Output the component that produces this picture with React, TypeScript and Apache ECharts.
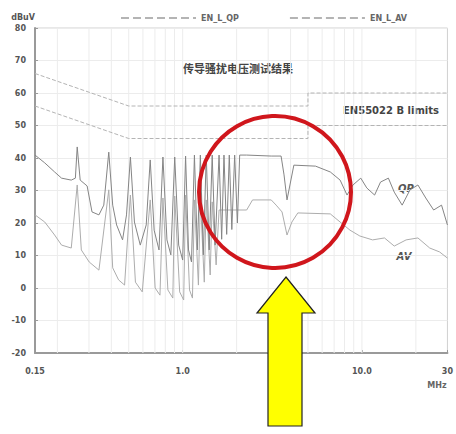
import React, { useEffect, useRef } from "react";
import * as echarts from "echarts";

// Axis ticks
const xTickFreqs = [0.15, 1, 10, 30];
const xTickLabels = ["0.15", "1.0", "10.0", "30"];
const gridFreqs = [0.2, 0.3, 0.4, 0.5, 0.6, 0.7, 0.8, 0.9, 1, 2, 3, 4, 5, 6, 7, 8, 9, 10, 20];
const yMin = -20;
const yMax = 80;
const yStep = 10;

// EN55022 class B limits (MHz, dBuV)
const limitFreq = [0.15, 0.5, 5, 5, 30];
const qpLimit = [66, 56, 56, 60, 60];
const avLimit = [56, 46, 46, 50, 50];

// Quasi-peak trace (MHz, dBuV)
const qpFreq = [0.150, 0.170, 0.193, 0.211, 0.239, 0.252, 0.258, 0.268, 0.293, 0.312, 0.341, 0.363, 0.387, 0.407, 0.428, 0.462, 0.486, 0.511, 0.538, 0.580, 0.626, 0.659, 0.693, 0.738, 0.776, 0.817, 0.859, 0.903, 0.950, 1.000, 1.038, 1.078, 1.120, 1.163, 1.208, 1.255, 1.304, 1.354, 1.406, 1.461, 1.517, 1.596, 1.65, 1.70, 1.76, 1.82, 1.88, 1.95, 2.02, 2.08, 2.275, 3.120, 3.540, 3.677, 3.820, 3.967, 4.172, 5.511, 6.662, 7.557, 8.260, 8.911, 9.859, 10.64, 11.77, 12.70, 14.05, 15.15, 16.77, 18.55, 20.53, 22.71, 25.13, 27.81, 30.00];
const qpLevel = [40.9, 38.5, 35.7, 33.8, 33.2, 33.8, 43.4, 33.2, 31.4, 23.4, 22.5, 25.5, 41.8, 25.5, 19.4, 14.8, 22.5, 40.3, 20.3, 13.2, 19.4, 39.4, 17.8, 11.7, 40.3, 14.8, 10.2, 40.3, 13.2, 8.6, 40.6, 11.7, 8.0, 40.9, 11.7, 40.9, 10.2, 40.9, 11.7, 40.9, 13.2, 40.9, 15.0, 40.9, 16.5, 40.9, 18.0, 40.9, 20.0, 40.9, 40.9, 40.6, 40.6, 34.8, 27.1, 31.7, 37.8, 37.5, 35.7, 33.2, 28.6, 31.7, 33.8, 30.8, 28.6, 32.6, 33.8, 29.5, 25.5, 30.2, 31.7, 27.7, 24.0, 25.5, 19.4];

// Average trace (MHz, dBuV)
const avFreq = [0.150, 0.170, 0.193, 0.211, 0.239, 0.258, 0.272, 0.301, 0.341, 0.387, 0.407, 0.439, 0.474, 0.511, 0.545, 0.595, 0.659, 0.702, 0.747, 0.776, 0.827, 0.881, 0.903, 0.962, 1.013, 1.038, 1.092, 1.134, 1.163, 1.224, 1.255, 1.320, 1.354, 1.424, 1.461, 1.537, 1.596, 2.275, 2.454, 3.120, 3.323, 3.585, 3.820, 4.068, 4.389, 6.662, 7.557, 8.579, 9.737, 11.47, 13.36, 15.15, 17.64, 20.53, 23.89, 27.12, 30.00];
const avLevel = [22.5, 20.3, 16.3, 13.2, 12.3, 31.7, 11.7, 8.0, 5.5, 30.2, 6.2, 2.5, 0.9, 28.6, 1.8, -1.2, 27.1, 0.0, -2.2, 27.7, -0.6, -3.1, 28.3, -1.2, -3.7, 28.6, -0.6, -3.1, 27.1, 0.9, 27.7, 1.8, 27.1, 4.0, 26.5, 7.1, 24.0, 24.0, 27.1, 27.1, 25.5, 23.4, 16.3, 20.3, 23.1, 22.8, 20.3, 17.8, 16.0, 14.8, 15.4, 12.9, 14.8, 15.4, 12.3, 11.1, 9.2];

const legendNames = ["EN_L_QP", "EN_L_AV"];
const titleText = "传导骚扰电压测试结果";
const limitText = "EN55022 B limits";

const lg = (f: number) => Math.log10(f);

export default function App() {
  const ref = useRef<HTMLDivElement>(null);
  useEffect(() => {
    const chart = echarts.init(ref.current!, null, { renderer: "svg" });
    const labelFont = { fontSize: 8, fontWeight: "bold" as const, color: "#555", fontFamily: "DejaVu Sans" };
    const centered = { textAlign: "center", textVerticalAlign: "middle", align: "center", verticalAlign: "middle" };
    const gridData: any[] = [];
    gridFreqs.forEach((f) => {
      gridData.push([lg(f), yMin], [lg(f), yMax], [lg(f), "-"]);
    });
    chart.setOption({
      animation: false,
      backgroundColor: "#fff",
      grid: { left: 35, top: 28, width: 419, height: 325, show: true, borderColor: "#d0d0d0", borderWidth: 1 },
      legend: {
        data: legendNames.map((n) => ({ name: n, itemStyle: { opacity: 0 } })),
        left: 115,
        top: 9,
        itemWidth: 75,
        itemHeight: 8,
        itemGap: 50,
        textStyle: { fontSize: 8, fontWeight: "bold", color: "#666", fontFamily: "DejaVu Sans" },
      },
      xAxis: {
        type: "value",
        min: lg(0.15),
        max: lg(30),
        axisLine: { onZero: false, lineStyle: { color: "#9a9a9a", width: 2 } },
        axisTick: { show: true, customValues: xTickFreqs.map(lg), length: 3, inside: true, lineStyle: { color: "#999" } },
        axisLabel: {
          customValues: xTickFreqs.map(lg),
          margin: 14,
          ...labelFont,
          formatter: (v: number) => {
            const i = xTickFreqs.findIndex((f) => Math.abs(lg(f) - v) < 1e-6);
            return i >= 0 ? xTickLabels[i] : "";
          },
        },
        splitLine: { show: false },
      },
      yAxis: {
        type: "value",
        min: yMin,
        max: yMax,
        interval: yStep,
        name: "dBuV",
        nameGap: 7,
        nameTextStyle: { ...labelFont, align: "right" },
        axisLine: { show: true, onZero: false, lineStyle: { color: "#9a9a9a", width: 2 } },
        axisTick: { show: true, inside: true, length: 3, lineStyle: { color: "#999" } },
        axisLabel: { ...labelFont, margin: 9 },
        splitLine: { lineStyle: { color: "#ececec", width: 1 } },
      },
      series: [
        {
          type: "line",
          name: "grid",
          data: gridData,
          z: 1,
          silent: true,
          symbol: "none",
          connectNulls: false,
          lineStyle: { color: "#ececec", width: 1 },
        },
        {
          type: "line",
          name: legendNames[0],
          data: limitFreq.map((f, i) => [lg(f), qpLimit[i]]),
          symbol: "none",
          lineStyle: { color: "#b4b4b4", type: "dashed", width: 1 },
          itemStyle: { color: "#b4b4b4" },
          z: 2,
        },
        {
          type: "line",
          name: legendNames[1],
          data: limitFreq.map((f, i) => [lg(f), avLimit[i]]),
          symbol: "none",
          lineStyle: { color: "#b4b4b4", type: "dashed", width: 1 },
          itemStyle: { color: "#b4b4b4" },
          z: 2,
        },
        {
          type: "line",
          name: "AV",
          data: avFreq.map((f, i) => [lg(f), avLevel[i]]),
          symbol: "none",
          lineStyle: { color: "#adadad", width: 1 },
          z: 3,
        },
        {
          type: "line",
          name: "QP",
          data: qpFreq.map((f, i) => [lg(f), qpLevel[i]]),
          symbol: "none",
          lineStyle: { color: "#858585", width: 1 },
          z: 4,
        },
      ],
      graphic: [
        { type: "text", x: 238, y: 68, style: { text: titleText, fill: "#444", font: "bold 11px 'Noto Sans CJK SC'", ...centered } },
        { type: "text", x: 391, y: 110, style: { text: limitText, fill: "#444", font: "bold 10px 'DejaVu Sans'", ...centered } },
        { type: "text", x: 406, y: 188, style: { text: "QP", fill: "#555", font: "italic bold 10px 'DejaVu Sans'", ...centered } },
        { type: "text", x: 404, y: 256, style: { text: "AV", fill: "#555", font: "italic bold 10px 'DejaVu Sans'", ...centered } },
        { type: "text", x: 437, y: 385, style: { text: "MHz", fill: "#666", font: "bold 8px 'DejaVu Sans'", ...centered } },
        { type: "circle", z: 100, shape: { cx: 275, cy: 192, r: 76 }, style: { fill: "none", stroke: "#d0161c", lineWidth: 4 } },
        {
          type: "polygon",
          z: 100,
          shape: { points: [[286, 277], [315, 313], [302, 313], [302, 426], [268, 426], [268, 313], [257, 313]] },
          style: { fill: "#ffff00", stroke: "#222", lineWidth: 1.2 },
        },
      ],
    });
    return () => chart.dispose();
  }, []);
  return <div ref={ref} style={{ position: "fixed", left: 0, top: 0, width: 456, height: 434, background: "#fff" }} />;
}
